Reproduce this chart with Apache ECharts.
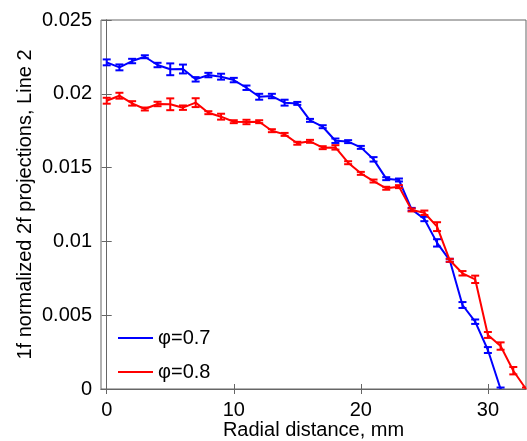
<!DOCTYPE html>
<html>
<head>
<meta charset="utf-8">
<script src="https://cdn.jsdelivr.net/npm/echarts@6/dist/echarts.min.js"></script>
<style>html,body{margin:0;padding:0;background:#fff;}#c{width:527px;height:441px;}</style>
</head>
<body>
<div id="c"></div>
<script>
const xTicks = [0, 10, 20, 30];
const blueX = [0,1,2,3,4,5,6,7,8,9,10,11,12,13,14,15,16,17,18,19,20,21,22,23,24,25,26,27,28,29,30,31];
const blueY = [0.02213,0.02179,0.02222,0.02251,0.02195,0.02166,0.02168,0.02098,0.02127,0.02116,0.02093,0.02041,0.01980,0.01985,0.01940,0.01935,0.01820,0.01777,0.01682,0.01676,0.01637,0.01556,0.01425,0.01416,0.01217,0.01152,0.00990,0.00872,0.00569,0.00456,0.00264,0.0];
const blueErr = [0.0002,0.0002,0.00015,0.0001,0.00015,0.0004,0.0003,0.00015,0.00015,0.0002,0.00015,0.00015,0.0002,0.00015,0.0002,0.0001,0.0001,0.0001,0.00015,0.0001,0.0001,0.00015,0.0001,0.0001,0.0001,0.00015,0.00025,0.0001,0.0002,0.00015,0.0002,0.0001];
const redX = [0,1,2,3,4,5,6,7,8,9,10,11,12,13,14,15,16,17,18,19,20,21,22,23,24,25,26,27,28,29,30,31,32,33];
const redY = [0.01953,0.01987,0.01935,0.01897,0.01931,0.01929,0.01906,0.01940,0.01872,0.01845,0.01811,0.01809,0.01811,0.01750,0.01725,0.01665,0.01678,0.01635,0.01637,0.01533,0.01461,0.01409,0.01360,0.01371,0.01213,0.01194,0.01100,0.00872,0.00784,0.00743,0.00366,0.00291,0.00124,0.0];
const redErr = [0.0002,0.0002,0.00015,0.0001,0.00015,0.0004,0.00015,0.0003,0.0001,0.0002,0.0001,0.00015,0.0001,0.0001,0.0001,0.0001,0.0001,0.0001,0.00015,0.0001,0.0001,0.0001,0.0001,0.0001,0.0001,0.00015,0.0003,0.0001,0.00015,0.00025,0.0002,0.00025,0.00025,0.0001];
const seriesNames = ['φ=0.7', 'φ=0.8'];
const colors = ['#0000ff', '#ff0000'];

const font = 'Liberation Sans, Arial, sans-serif';
function pts(xs, ys){ return xs.map((x,i)=>[x, ys[i]]); }
function errData(xs, ys, es){ return xs.map((x,i)=>[x, ys[i]-es[i], ys[i]+es[i]]); }
function errRender(color){
  return function(params, api){
    const lo = api.coord([api.value(0), api.value(1)]);
    const hi = api.coord([api.value(0), api.value(2)]);
    const w = 4;
    const st = {stroke: color, lineWidth: 2};
    return {type:'group', children:[
      {type:'line', shape:{x1:lo[0], y1:lo[1], x2:hi[0], y2:hi[1]}, style: st},
      {type:'line', shape:{x1:lo[0]-w, y1:lo[1], x2:lo[0]+w, y2:lo[1]}, style: st},
      {type:'line', shape:{x1:hi[0]-w, y1:hi[1], x2:hi[0]+w, y2:hi[1]}, style: st}
    ]};
  };
}
const axisLine = {show:true, lineStyle:{color:'#666', width:1}};
const chart = echarts.init(document.getElementById('c'));
chart.setOption({
  animation:false,
  backgroundColor:'#fff',
  grid:{left:101, right:1, top:20, bottom:52, show:true, borderColor:'#666', borderWidth:1,
        containLabel:false, outerBoundsMode:'none'},
  legend:{
    orient:'vertical', left:113, top:323, itemWidth:35, itemHeight:2, itemGap:14,
    icon:'rect',
    data: seriesNames,
    textStyle:{fontFamily:font, fontSize:20, color:'#000'}
  },
  xAxis:[{
    type:'value', min:-0.45, max:33,
    name:'Radial distance, mm', nameLocation:'middle', nameGap:31, nameMoveOverlap:false,
    nameTextStyle:{fontFamily:font, fontSize:20, color:'#000'},
    axisLine: axisLine,
    axisTick:{show:true, inside:true, length:5, customValues:xTicks, lineStyle:{color:'#666'}},
    axisLabel:{show:true, customValues:xTicks, margin:11, fontFamily:font, fontSize:20, color:'#000'},
    splitLine:{show:false}
  },{
    type:'value', position:'top', min:-0.45, max:33,
    axisLine: axisLine,
    axisTick:{show:true, inside:true, length:5, customValues:xTicks, lineStyle:{color:'#666'}},
    axisLabel:{show:false}, splitLine:{show:false}
  }],
  yAxis:[{
    type:'value', min:0, max:0.025, interval:0.005,
    name:'1f normalized 2f projections, Line 2', nameLocation:'middle', nameGap:66, nameMoveOverlap:false,
    nameTextStyle:{fontFamily:font, fontSize:20, color:'#000'},
    axisLine: axisLine,
    axisTick:{show:true, inside:true, length:5, lineStyle:{color:'#666'}},
    axisLabel:{margin:9, fontFamily:font, fontSize:20, color:'#000',
      formatter:function(v){ return String(Number(v.toFixed(4))); }},
    splitLine:{show:false}
  },{
    type:'value', position:'right', min:0, max:0.025, interval:0.005,
    axisLine: axisLine,
    axisTick:{show:true, inside:true, length:5, lineStyle:{color:'#666'}},
    axisLabel:{show:false}, splitLine:{show:false}
  }],
  series:[
    {name:seriesNames[0], type:'line', data:pts(blueX, blueY), symbol:'none', clip:true,
      lineStyle:{color:colors[0], width:2}, itemStyle:{color:colors[0]}, z:2},
    {type:'custom', data:errData(blueX, blueY, blueErr), renderItem:errRender(colors[0]), clip:true, z:2, silent:true},
    {name:seriesNames[1], type:'line', data:pts(redX, redY), symbol:'none', clip:true,
      lineStyle:{color:colors[1], width:2}, itemStyle:{color:colors[1]}, z:3},
    {type:'custom', data:errData(redX, redY, redErr), renderItem:errRender(colors[1]), clip:true, z:3, silent:true}
  ]
});
</script>
</body>
</html>
